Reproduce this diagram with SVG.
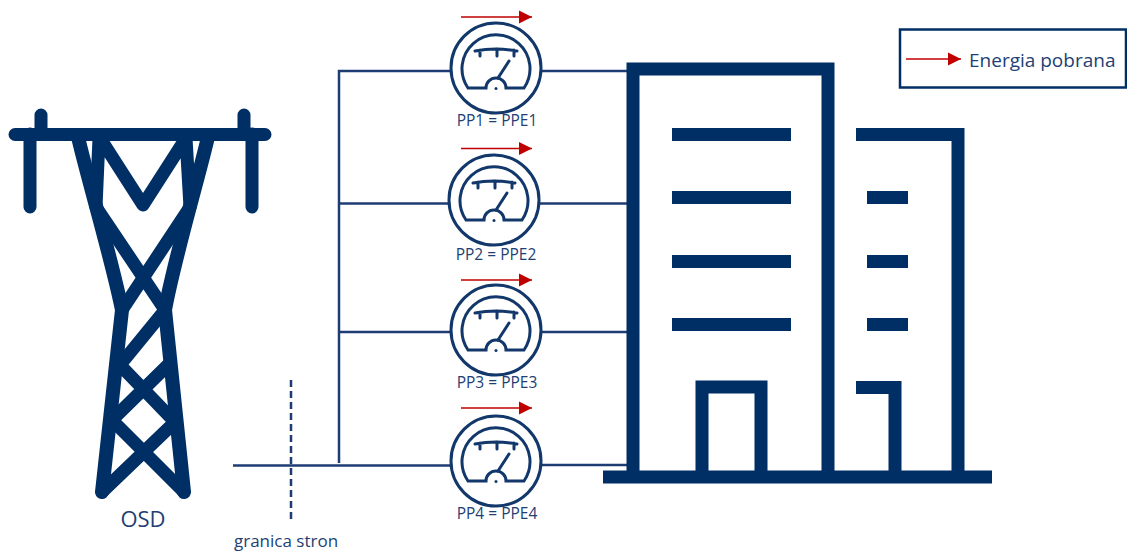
<svg xmlns="http://www.w3.org/2000/svg" width="1127" height="554" viewBox="0 0 1127 554">
<style>
text{font-family:"Open Sans","Noto Sans","Liberation Sans",sans-serif;fill:#223f74}
.icon{fill:none;stroke:#002f66;stroke-linecap:round;stroke-linejoin:round}
.bld{fill:none;stroke:#002f66;stroke-width:13}
.wire{fill:none;stroke:#1f3b73;stroke-width:2.500}
.flow{fill:none;stroke:#c00000;stroke-width:1.500;marker-end:url(#ah)}
.m1{fill:none;stroke:#12376b;stroke-width:3}
.m2{fill:none;stroke:#12376b;stroke-width:3;stroke-linecap:round}
.lbl{font-size:15.500px;text-anchor:middle}
</style>
<defs>
<marker id="ah" markerUnits="userSpaceOnUse" markerWidth="14" markerHeight="14" refX="13" refY="7" orient="auto"><path d="M0,0.500L13,7L0,13.500Z" fill="#c00000"/></marker>
<g id="meter">
<circle r="45" class="m1"/>
<path d="M-28,20H-10A10,10 0 0 1 10,20H28A34,34 0 1 0 -28,20Z" class="m1"/>
<path d="M-21,-17Q0,-21 21,-17M-16,-18V-12M1,-19V-12M18,-18V-12" class="m2"/>
<path d="M2,10L13,-7" class="m2"/>
<circle cy="20.500" r="1.500" fill="#12376b"/>
</g>
</defs>
<g id="connectors">
<path class="wire" d="M233,465.500H452M339,463V71H452M542,71H628M339,203.500H449M540,203.500H628M339,332H452M542,332H628M542,465H628"/>
<path class="wire" d="M291,380V522" stroke-dasharray="7 4"/>
<path class="flow" d="M461,17H532"/>
<path class="flow" d="M461,148.500H532"/>
<path class="flow" d="M461,280H532"/>
<path class="flow" d="M461,408H532"/>
</g>
<g id="osd">
<g class="icon" stroke-width="13">
<path d="M15,134.500H265M41,115V134M244,115V134M30,134V207M252,134V207"/>
<path stroke-width="14" d="M78,137C88,180 112,260 122,310L102,492M208,137C198,180 174,260 165,310L184,492"/>
<path d="M100,138L143,205L186,138M99,138L96,207L163,307M186,138L190,207L122,310M165,310L120,365L175,422L102,492M168,365L112,420L184,492"/>
</g>
<text x="143" y="527" font-size="22" text-anchor="middle">OSD</text>
</g>
<g id="granica"><text x="234" y="547" font-size="17">granica stron</text></g>
<g id="pp1"><use href="#meter" x="496" y="68"/><text class="lbl" x="497" y="126">PP1 = PPE1</text></g>
<g id="pp2"><use href="#meter" x="494" y="200"/><text class="lbl" x="496" y="260">PP2 = PPE2</text></g>
<g id="pp3"><use href="#meter" x="496" y="330"/><text class="lbl" x="497" y="388">PP3 = PPE3</text></g>
<g id="pp4"><use href="#meter" x="496" y="461"/><text class="lbl" x="497" y="519">PP4 = PPE4</text></g>
<g id="building">
<path class="bld" d="M633,477V69H828V477"/>
<path class="bld" stroke-width="14" d="M603,477H992"/>
<path class="bld" d="M702,477V387H761V477M856,134.500H958V477M856,387.500H895V477"/>
<path class="bld" stroke-width="15" d="M672,134.500H791M672,197.500H791M672,261.500H791M672,324.500H791M867,197.500H908M867,261.500H908M867,324.500H908"/>
</g>
<g id="legend">
<rect x="900" y="29.500" width="226" height="58" fill="#fff" stroke="#002f66" stroke-width="2.500"/>
<path class="flow" d="M906,59H961"/>
<text x="969" y="67" font-size="19">Energia pobrana</text>
</g>
</svg>
